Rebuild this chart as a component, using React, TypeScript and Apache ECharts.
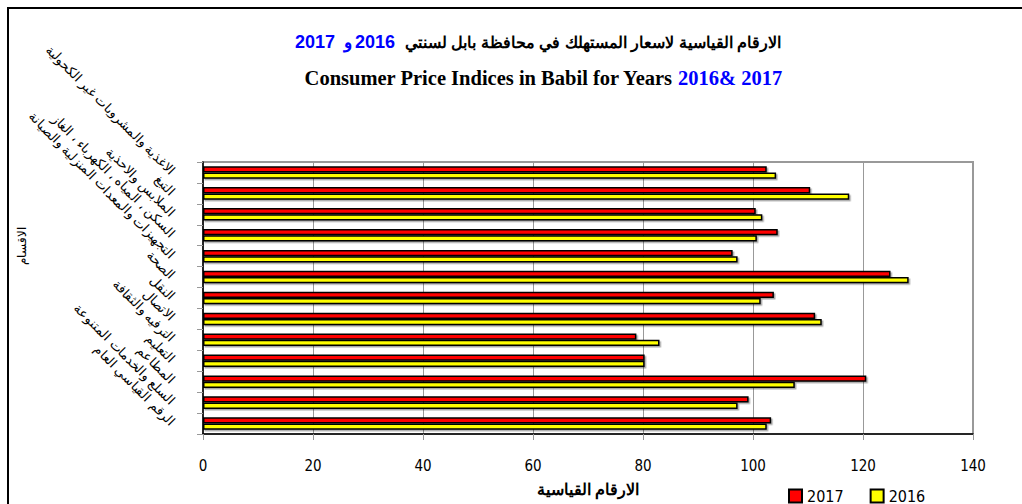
import React, { useEffect, useRef } from "react";
import * as echarts from "echarts";

const categories = [
  "الاغذية والمشروبات غير الكحولية",
  "التبغ",
  "الملابس والاحذية",
  "السكن ، المياه ، الكهرباء ، الغاز",
  "التجهيزات والمعدات المنزلية والصيانة",
  "الصحة",
  "النقل",
  "الاتصال",
  "الترفيه والثقافة",
  "التعليم",
  "المطاعم",
  "السلع والخدمات المتنوعة",
  "الرقم القياسي العام",
];
const values2017 = [102.5, 110.4, 100.5, 104.5, 96.3, 125.0, 103.8, 111.3, 78.8, 80.3, 120.6, 99.2, 103.3];
const values2016 = [104.2, 117.5, 101.7, 100.7, 97.2, 128.3, 101.4, 112.5, 83.0, 80.3, 107.6, 97.2, 102.5];
const seriesNames = ["2017", "2016"];
const xTicks = { min: 0, max: 140, interval: 20 };

const arabicTitle = "الارقام القياسية لاسعار المستهلك في محافظة بابل لسنتي";
const englishTitle = "Consumer Price Indices in Babil for Years ";
const englishYears = "2016& 2017";
const xName = "الارقام القياسية";
const yName = "الاقسام";

const SANS = "'Liberation Sans', Arial, sans-serif";
const NARROW = "'Liberation Sans Narrow', 'DejaVu Sans Condensed', sans-serif";
const SERIF = "'Liberation Serif', 'Times New Roman', serif";

export default function App() {
  const ref = useRef<HTMLDivElement>(null);
  useEffect(() => {
    document.body.style.margin = "0";
    if (!ref.current) return;
    const chart = echarts.init(ref.current, undefined, { renderer: "svg" });
    const barStyle = (color: string) => ({
      color,
      borderColor: "#000",
      borderWidth: 1.5,
      shadowColor: "rgba(0,0,0,0.35)",
      shadowOffsetX: 1.5,
      shadowOffsetY: 1.5,
      shadowBlur: 0,
    });
    chart.setOption({
      animation: false,
      backgroundColor: "#fff",
      grid: {
        left: 203,
        right: 49,
        top: 162,
        bottom: 70,
        show: true,
        borderColor: "#999",
        borderWidth: 2,
        backgroundColor: "#fff",
      },
      legend: {
        left: 788,
        top: 488,
        padding: 0,
        itemWidth: 13,
        itemHeight: 13,
        itemGap: 26,
        icon: "rect",
        textStyle: { fontFamily: NARROW, fontSize: 16, color: "#000", lineHeight: 14 },
        data: seriesNames,
      },
      xAxis: {
        type: "value",
        min: xTicks.min,
        max: xTicks.max,
        interval: xTicks.interval,
        axisLine: { show: true, lineStyle: { color: "#000", width: 1.5 } },
        axisTick: { show: true, length: 6, lineStyle: { color: "#999" } },
        splitLine: { show: true, lineStyle: { color: "#999", width: 1 } },
        axisLabel: { fontFamily: NARROW, fontSize: 15, color: "#000", margin: 24 },
        name: xName,
        nameLocation: "middle",
        nameGap: 47,
        nameTextStyle: { fontFamily: SANS, fontSize: 16, fontWeight: "bold", color: "#000" },
      },
      yAxis: {
        type: "category",
        inverse: true,
        data: categories,
        axisLine: { show: true, lineStyle: { color: "#000", width: 1.5 } },
        axisTick: { show: true, length: 6, lineStyle: { color: "#999" } },
        axisLabel: {
          interval: 0,
          rotate: -45,
          margin: 30,
          fontFamily: SANS,
          fontSize: 13,
          color: "#000",
        },
      },
      series: [
        {
          name: seriesNames[0],
          type: "bar",
          data: values2017,
          barCategoryGap: "40%",
          barGap: "0%",
          itemStyle: barStyle("#ff0000"),
        },
        {
          name: seriesNames[1],
          type: "bar",
          data: values2016,
          barCategoryGap: "40%",
          barGap: "0%",
          itemStyle: barStyle("#ffff00"),
        },
      ],
      graphic: [
        {
          type: "rect",
          shape: { x: 8, y: 8, width: 1100, height: 600 },
          style: { fill: "none", stroke: "#000", lineWidth: 2 },
          silent: true,
        },
        {
          type: "text",
          x: 22,
          y: 246,
          rotation: Math.PI / 2,
          style: { text: yName, align: "center", verticalAlign: "middle", font: `12px ${SANS}`, fill: "#000" },
        },
        {
          type: "text",
          x: 781,
          y: 42,
          style: { text: arabicTitle, align: "right", verticalAlign: "middle", font: `bold 16px ${SANS}`, fill: "#000" },
        },
        {
          type: "text",
          x: 395,
          y: 42,
          style: { text: "2016", align: "right", verticalAlign: "middle", font: `bold 18px ${SANS}`, fill: "#0000ff" },
        },
        {
          type: "text",
          x: 352,
          y: 42,
          style: { text: "و", align: "right", verticalAlign: "middle", font: `bold 17px ${SANS}`, fill: "#0000ff" },
        },
        {
          type: "text",
          x: 335,
          y: 42,
          style: { text: "2017", align: "right", verticalAlign: "middle", font: `bold 18px ${SANS}`, fill: "#0000ff" },
        },
        {
          type: "text",
          x: 543,
          y: 78,
          style: {
            text: `{a|${englishTitle}}{b|${englishYears}}`,
            align: "center",
            verticalAlign: "middle",
            rich: {
              a: { font: `bold 20.5px ${SERIF}`, fill: "#000" },
              b: { font: `bold 20.5px ${SERIF}`, fill: "#0000ff" },
            },
          },
        },
      ],
    });
    return () => chart.dispose();
  }, []);
  return <div ref={ref} style={{ width: 1022, height: 504 }} />;
}
